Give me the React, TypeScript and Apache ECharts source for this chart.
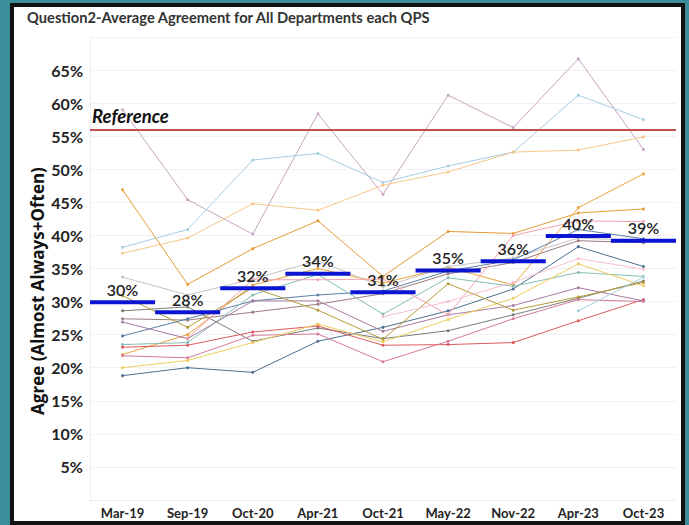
import React, { useEffect, useRef } from "react";
import * as echarts from "echarts";

const categories = ["Mar-19", "Sep-19", "Oct-20", "Apr-21", "Oct-21", "May-22", "Nov-22", "Apr-23", "Oct-23"];

const averageValues = [29.9, 28.4, 32.0, 34.2, 31.4, 34.7, 36.1, 39.9, 39.2];
const referenceValue = 56;

const purpleHigh = [59.0, 45.4, 40.2, 58.4, 46.2, 61.2, 56.3, 66.7, 53.0];
const lightBlueHigh = [38.2, 40.9, 51.4, 52.4, 48.0, 50.5, 52.6, 61.2, 57.5];
const lightOrangeHigh = [37.3, 39.6, 44.8, 43.8, 47.6, 49.6, 52.6, 52.9, 54.9];
const orangeA = [46.9, 32.6, 38.0, 42.2, 33.8, 40.6, 40.3, 43.4, 44.0];
const orangeB = [22.0, 25.0, 32.5, 35.0, 32.8, 35.2, 32.5, 44.2, 49.3];
const lightGray = [33.7, 31.0, 33.4, 36.2, 32.2, 35.3, 36.6, 39.6, 39.2];
const darkGray = [28.6, 29.2, 24.0, 26.0, 24.4, 25.6, 28.0, 30.5, 33.1];
const brown = [27.4, 27.2, 28.4, 29.6, 31.2, 34.2, 35.9, 39.2, 38.9];
const steelBlue = [24.8, 27.4, 30.1, 31.0, 31.6, 34.6, 36.3, 40.9, 39.5];
const darkBlue = [18.8, 20.0, 19.3, 24.0, 26.1, 28.6, 31.9, 38.3, 35.3];
const teal = [23.5, 23.8, 31.0, 34.1, 28.1, 33.6, 32.3, 34.4, 33.8];
const red = [23.1, 23.4, 25.4, 26.3, 23.4, 23.5, 23.8, 27.1, 30.3];
const purple = [26.9, 24.4, 30.1, 30.1, 25.5, 28.0, 29.4, 32.1, 30.1];
const mauve = [21.8, 21.5, 24.9, 25.1, 20.9, 24.0, 27.4, 30.3, 30.0];
const yellow = [20.0, 21.1, 23.8, 26.6, 23.9, 27.3, 30.5, 35.7, 32.4];
const olive = [30.9, 26.1, 32.1, 28.7, 24.3, 32.7, 28.7, 30.7, 32.9];
const pinkA = [null, 24.5, 33.3, 33.3, 33.4, 28.0, 40.0, 42.2, 42.1];
const pinkB = [null, null, null, null, 27.7, 30.0, 32.9, 36.5, 34.9];
const lightTeal = [null, null, null, null, null, null, null, 28.6, 33.7];

const departments: { name: string; data: (number | null)[]; color: string }[] = [
  { name: "Dept 1", data: purpleHigh, color: "#c9a3c3" },
  { name: "Dept 2", data: lightBlueHigh, color: "#a6cde2" },
  { name: "Dept 3", data: lightOrangeHigh, color: "#f7c78a" },
  { name: "Dept 4", data: orangeA, color: "#e69a35" },
  { name: "Dept 5", data: orangeB, color: "#eda23c" },
  { name: "Dept 6", data: lightGray, color: "#c4c4c4" },
  { name: "Dept 7", data: darkGray, color: "#7b7b7b" },
  { name: "Dept 8", data: brown, color: "#9a7d7d" },
  { name: "Dept 9", data: steelBlue, color: "#5a7fa8" },
  { name: "Dept 10", data: darkBlue, color: "#4d6e8e" },
  { name: "Dept 11", data: teal, color: "#86bcb6" },
  { name: "Dept 12", data: red, color: "#dc5a5c" },
  { name: "Dept 13", data: purple, color: "#a87a9f" },
  { name: "Dept 14", data: mauve, color: "#d57a9a" },
  { name: "Dept 15", data: yellow, color: "#f0cc5c" },
  { name: "Dept 16", data: olive, color: "#b49a35" },
  { name: "Dept 17", data: pinkA, color: "#f4a3ab" },
  { name: "Dept 18", data: pinkB, color: "#f6bfd0" },
  { name: "Dept 19", data: lightTeal, color: "#a3d3df" },
];

const FONT = "Lato, 'Open Sans', sans-serif";

export default function App() {
  const ref = useRef<HTMLDivElement>(null);

  useEffect(() => {
    if (!ref.current) return;
    const chart = echarts.init(ref.current, undefined, { renderer: "svg" });

    const lineSeries: any[] = departments.map((d) => ({
      name: d.name,
      type: "line",
      data: d.data,
      connectNulls: false,
      symbol: "circle",
      symbolSize: 3,
      lineStyle: { width: 1, color: d.color },
      itemStyle: { color: d.color },
      silent: true,
      z: 2,
    }));

    lineSeries[0].markLine = {
      silent: true,
      symbol: "none",
      lineStyle: { color: "#c0504d", width: 2, type: "solid" },
      label: {
        show: true,
        position: "insideStartTop",
        formatter: "Reference",
        fontStyle: "italic",
        fontWeight: "bold",
        fontSize: 18.5,
        fontFamily: FONT,
        color: "#111",
        distance: [2, 4],
      },
      data: [{ yAxis: referenceValue }],
    };

    const avgSeries = {
      type: "custom",
      name: "Average",
      data: averageValues.map((v, i) => [i, v]),
      z: 5,
      silent: true,
      renderItem: (params: any, api: any) => {
        const idx = api.value(0);
        const val = api.value(1);
        const c = api.coord([idx, val]);
        const w = api.size([1, 0])[0];
        return {
          type: "group",
          children: [
            {
              type: "line",
              shape: { x1: c[0] - w / 2, y1: c[1], x2: c[0] + w / 2, y2: c[1] },
              style: { stroke: "#0a14d2", lineWidth: 4 },
            },
            {
              type: "text",
              x: c[0],
              y: c[1] - 5,
              style: {
                text: Math.round(val) + "%",
                fill: "#222",
                fontSize: 16,
                fontFamily: FONT,
                fontWeight: 600,
                align: "center",
                verticalAlign: "bottom",
              },
            },
          ],
        };
      },
    };

    chart.setOption({
      animation: false,
      grid: { left: 90, right: 13, top: 37, bottom: 25 },
      xAxis: {
        type: "category",
        data: categories,
        axisLine: { show: true, lineStyle: { color: "#ececec" } },
        axisTick: { show: false },
        axisLabel: { color: "#222", fontWeight: "bold", fontSize: 13, fontFamily: FONT, margin: 6 },
        splitLine: { show: false },
      },
      yAxis: {
        type: "value",
        min: 0,
        max: 70,
        interval: 5,
        axisLine: { show: true, lineStyle: { color: "#eeeeee" } },
        axisTick: { show: false },
        splitLine: { show: true, lineStyle: { color: "#f1f1f1" } },
        axisLabel: {
          color: "#222",
          fontWeight: "bold",
          fontSize: 16,
          fontFamily: FONT,
          margin: 7,
          formatter: (v: number) => (v === 0 || v === 70 ? "" : v + "%"),
        },
      },
      graphic: [
        {
          type: "text",
          left: 27,
          top: 9,
          style: {
            text: "Question2-Average Agreement for All Departments each QPS",
            fill: "#333",
            fontSize: 14.7,
            fontWeight: "bold",
            fontFamily: FONT,
          },
        },
        {
          type: "text",
          x: 37,
          y: 291,
          rotation: Math.PI / 2,
          style: {
            text: "Agree (Almost Always+Often)",
            fill: "#111",
            fontSize: 17,
            fontWeight: "bold",
            fontFamily: "'Open Sans', Lato, sans-serif",
            align: "center",
            verticalAlign: "middle",
          },
        },
      ],
      series: [...lineSeries, avgSeries],
    });

    return () => chart.dispose();
  }, []);

  return (
    <div style={{ position: "fixed", left: 0, top: 0, width: 689, height: 525, background: "#3b8e9a", overflow: "hidden" }}>
      <div
        style={{
          position: "absolute",
          left: 10,
          top: 3,
          width: 675,
          height: 522,
          boxSizing: "border-box",
          border: "4px solid #111",
          background: "#ffffff",
        }}
      />
      <div ref={ref} style={{ position: "absolute", left: 0, top: 0, width: 689, height: 525 }} />
    </div>
  );
}
